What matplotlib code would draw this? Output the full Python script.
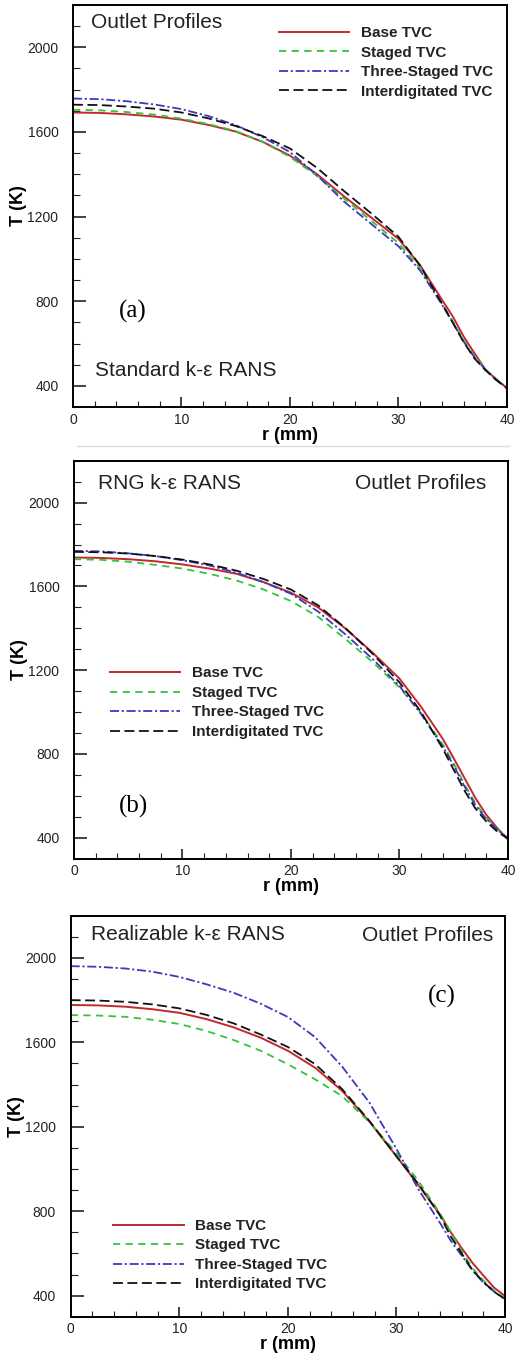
import numpy as np
import matplotlib.pyplot as plt
from matplotlib.ticker import MultipleLocator
from matplotlib.lines import Line2D

plt.rcParams.update({
    "font.family": ["Liberation Sans", "DejaVu Sans"],
    "axes.linewidth": 1.4,
})

# ---- data ----
r_mm = [0, 2.5, 5, 7.5, 10, 12.5, 15, 17.5, 20, 22.5, 25, 27.5, 30,
        32, 34, 35, 36, 37, 38, 39, 40]

# (a) Standard k-eps
a_base = [1692, 1690, 1683, 1673, 1658, 1633, 1602, 1553, 1488, 1400, 1295,
          1195, 1095, 970, 808, 729, 634, 555, 478, 432, 390]
a_staged = [1705, 1702, 1694, 1682, 1663, 1637, 1604, 1553, 1482, 1392, 1285,
            1180, 1075, 955, 790, 705, 615, 540, 480, 430, 390]
a_three = [1758, 1755, 1745, 1730, 1708, 1675, 1632, 1575, 1505, 1395, 1270,
           1165, 1060, 945, 785, 700, 610, 535, 478, 430, 390]
a_inter = [1729, 1727, 1720, 1710, 1692, 1664, 1628, 1580, 1522, 1430, 1320,
           1215, 1105, 968, 790, 700, 608, 530, 475, 428, 388]

# (b) RNG k-eps
b_base = [1738, 1736, 1730, 1720, 1705, 1685, 1660, 1620, 1570, 1500, 1400,
          1285, 1160, 1025, 872, 780, 685, 590, 510, 447, 392]
b_staged = [1730, 1727, 1718, 1703, 1685, 1660, 1628, 1585, 1530, 1455, 1350,
            1240, 1118, 995, 845, 755, 655, 565, 495, 440, 398]
b_three = [1770, 1767, 1758, 1745, 1725, 1700, 1665, 1620, 1565, 1480, 1372,
           1255, 1125, 990, 835, 745, 645, 555, 490, 440, 398]
b_inter = [1765, 1763, 1757, 1745, 1728, 1705, 1675, 1635, 1585, 1510, 1402,
           1280, 1142, 1000, 825, 725, 625, 540, 478, 430, 395]

# (c) Realizable k-eps
c_base = [1777, 1775, 1769, 1757, 1740, 1710, 1671, 1622, 1560, 1480, 1370,
          1225, 1060, 925, 785, 700, 625, 555, 495, 437, 398]
c_staged = [1729, 1727, 1721, 1707, 1687, 1654, 1611, 1560, 1496, 1425, 1345,
            1222, 1075, 945, 790, 700, 610, 530, 472, 422, 388]
c_three = [1961, 1958, 1950, 1935, 1910, 1875, 1835, 1783, 1720, 1625, 1485,
           1315, 1095, 905, 745, 660, 590, 520, 462, 418, 383]
c_inter = [1800, 1798, 1792, 1780, 1761, 1730, 1690, 1637, 1578, 1497, 1378,
           1228, 1060, 930, 780, 680, 600, 520, 465, 418, 383]

names = ["Base TVC", "Staged TVC", "Three-Staged TVC", "Interdigitated TVC"]
colors = ["#c3282e", "#33c43a", "#3a3ac0", "#111111"]
styles = ["-", (0, (4, 3)), (0, (5, 1.5, 1.2, 1.5)), (0, (5.5, 2.5))]

panels = [
    dict(series=[a_base, a_staged, a_three, a_inter], rect=[0.1407, 0.7003, 0.836, 0.296],
         model="Standard k-\u03b5 RANS", model_xy=(2.0, 474), outlet_xy=(1.7, 2118),
         outlet_ha="left", tag="(a)", tag_xy=(4.2, 752),
         leg=(0.475, 0.947)),
    dict(series=[b_base, b_staged, b_three, b_inter], rect=[0.1426, 0.3677, 0.836, 0.293],
         model="RNG k-\u03b5 RANS", model_xy=(2.2, 2092), outlet_xy=(38.0, 2092),
         outlet_ha="right", tag="(b)", tag_xy=(4.1, 550),
         leg=(0.083, 0.483)),
    dict(series=[c_base, c_staged, c_three, c_inter], rect=[0.1362, 0.0304, 0.837, 0.2953],
         model="Realizable k-\u03b5 RANS", model_xy=(1.85, 2112), outlet_xy=(38.9, 2105),
         outlet_ha="right", tag="(c)", tag_xy=(32.9, 1816),
         leg=(0.098, 0.244)),
]

fig = plt.figure(figsize=(5.19, 13.58), dpi=100)

for p in panels:
    ax = fig.add_axes(p["rect"])
    for vals, name, col, ls in zip(p["series"], names, colors, styles):
        lw = 1.4 if ls == "-" else 1.3
        ax.plot(r_mm, vals, color=col, ls=ls, lw=lw, label=name)

    ax.set_xlim(0, 40)
    ax.set_ylim(300, 2200)
    ax.xaxis.set_major_locator(MultipleLocator(10))
    ax.xaxis.set_minor_locator(MultipleLocator(2))
    ax.yaxis.set_major_locator(MultipleLocator(400))
    ax.yaxis.set_minor_locator(MultipleLocator(100))
    ax.tick_params(which="both", direction="in", top=False, right=False,
                   labelsize=10, colors="#222222")
    ax.tick_params(axis="x", which="major", length=7, width=1.2, pad=4)
    ax.tick_params(axis="x", which="minor", length=4, width=0.8)
    ax.tick_params(axis="y", which="major", length=9, width=1.2, pad=10.5)
    ax.tick_params(axis="y", which="minor", length=5, width=0.8)
    ax.set_xlabel("r (mm)", fontsize=13, fontweight="bold", labelpad=0)
    ax.set_ylabel("T (K)", fontsize=13, fontweight="bold", labelpad=0)

    ax.text(*p["model_xy"], p["model"], fontsize=15, ha="left", va="center",
            color="#222222")
    ax.text(*p["outlet_xy"], "Outlet Profiles", fontsize=15, ha=p["outlet_ha"],
            va="center", color="#222222")
    ax.text(*p["tag_xy"], p["tag"], fontsize=18, ha="left", va="center",
            family="Liberation Serif")

    leg = ax.legend(loc="upper left", bbox_to_anchor=p["leg"], frameon=False,
                    borderpad=0, borderaxespad=0, handlelength=4.6,
                    handletextpad=0.75, labelspacing=0.36,
                    prop=dict(size=11, weight="bold"))
    for t in leg.get_texts():
        t.set_color("#222222")

# faint rule under the first panel, as in the source figure
fig.add_artist(Line2D([0.148, 0.98], [1 - 446 / 1358] * 2, color="#dddddd", lw=1.0))

fig.savefig("out.png", dpi=100)
